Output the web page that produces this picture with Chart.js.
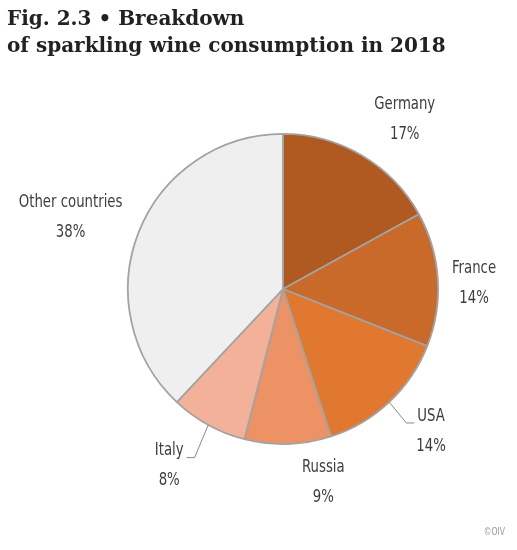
<!DOCTYPE html>
<html>
<head>
<meta charset="utf-8">
<script src="https://cdn.jsdelivr.net/npm/chart.js@4/dist/chart.umd.min.js"></script>
<style>
  html, body { margin: 0; padding: 0; background: #fff; }
  #wrap { position: relative; width: 517px; height: 550px; }
  #title {
    position: absolute; left: 7px; top: 5px;
    font-family: 'DejaVu Serif', 'Liberation Serif', serif;
    font-weight: bold; font-size: 20px; line-height: 27px; color: #222;
  }
  #credit {
    position: absolute; right: 10px; top: 526px;
    font-family: 'DejaVu Sans Condensed', sans-serif;
    font-size: 10px; color: #999; transform: scaleX(0.85);
  }
</style>
</head>
<body>
<div id="wrap">
  <canvas id="pieChart" width="517" height="550"></canvas>
  <div id="title">Fig. 2.3 • Breakdown<br>of sparkling wine consumption in 2018</div>
  <div id="credit">©OIV</div>
</div>
<script>
const countries = ['Germany', 'France', 'USA', 'Russia', 'Italy', 'Other countries'];
const shares = [17, 14, 14, 9, 8, 38];
const sliceColors = ['#b05a21', '#c9692a', '#e0782f', '#ec9264', '#f2b198', '#efefef'];

// where each label sits: extra distance beyond the rim and angle nudge (degrees)
const labelLayout = [
    { dist: 54, nudge: 5 },
    { dist: 36, nudge: 2 },
    { dist: 50, nudge: -3 },
    { dist: 42, nudge: -10 },
    { dist: 55, nudge: 4 },
    { dist: 69, nudge: -3 }
];
const withLeader = [false, false, true, false, true, false];
const squeeze = 0.82; // the original labels use a condensed face

const labelPlugin = {
    id: 'sliceLabels',
    afterDraw(chart) {
        const ctx = chart.ctx;
        const arcs = chart.getDatasetMeta(0).data;
        ctx.save();
        ctx.fillStyle = '#3d3d3d';
        ctx.textAlign = 'center';
        ctx.textBaseline = 'middle';
        ctx.font = '18px "DejaVu Sans Condensed", "DejaVu Sans", sans-serif';
        arcs.forEach((arc, i) => {
            const mid = (arc.startAngle + arc.endAngle) / 2;
            const a = mid + labelLayout[i].nudge * Math.PI / 180;
            const r = arc.outerRadius + labelLayout[i].dist;
            const x = arc.x + Math.cos(a) * r;
            const y = arc.y + Math.sin(a) * r;

            ctx.save();
            ctx.translate(x, y);
            ctx.scale(squeeze, 1);
            ctx.fillText(countries[i], 0, -15);
            ctx.fillText(shares[i] + '%', 0, 15);
            ctx.restore();

            if (withLeader[i]) {
                const w = ctx.measureText(countries[i]).width * squeeze;
                const sx = arc.x + Math.cos(mid) * arc.outerRadius;
                const sy = arc.y + Math.sin(mid) * arc.outerRadius;
                const side = Math.cos(mid) > 0 ? -1 : 1;
                const endX = x + side * (w / 2 + 3);
                const elbowX = endX + side * 8;
                const elbowY = y - 8;
                ctx.strokeStyle = '#888';
                ctx.lineWidth = 1;
                ctx.beginPath();
                ctx.moveTo(sx, sy);
                ctx.lineTo(elbowX, elbowY);
                ctx.lineTo(endX, elbowY);
                ctx.stroke();
            }
        });
        ctx.restore();
    }
};

const ctx = document.getElementById('pieChart').getContext('2d');
const pieChart = new Chart(ctx, {
    type: 'pie',
    data: {
        labels: countries,
        datasets: [{
            data: shares,
            backgroundColor: sliceColors,
            borderColor: '#a3a3a3',
            borderWidth: 1.8
        }]
    },
    options: {
        responsive: false,
        animation: false,
        layout: {
            padding: { left: 127, right: 78, top: 133, bottom: 105 }
        },
        plugins: {
            legend: { display: false },
            tooltip: { enabled: false }
        }
    },
    plugins: [labelPlugin]
});
</script>
</body>
</html>
